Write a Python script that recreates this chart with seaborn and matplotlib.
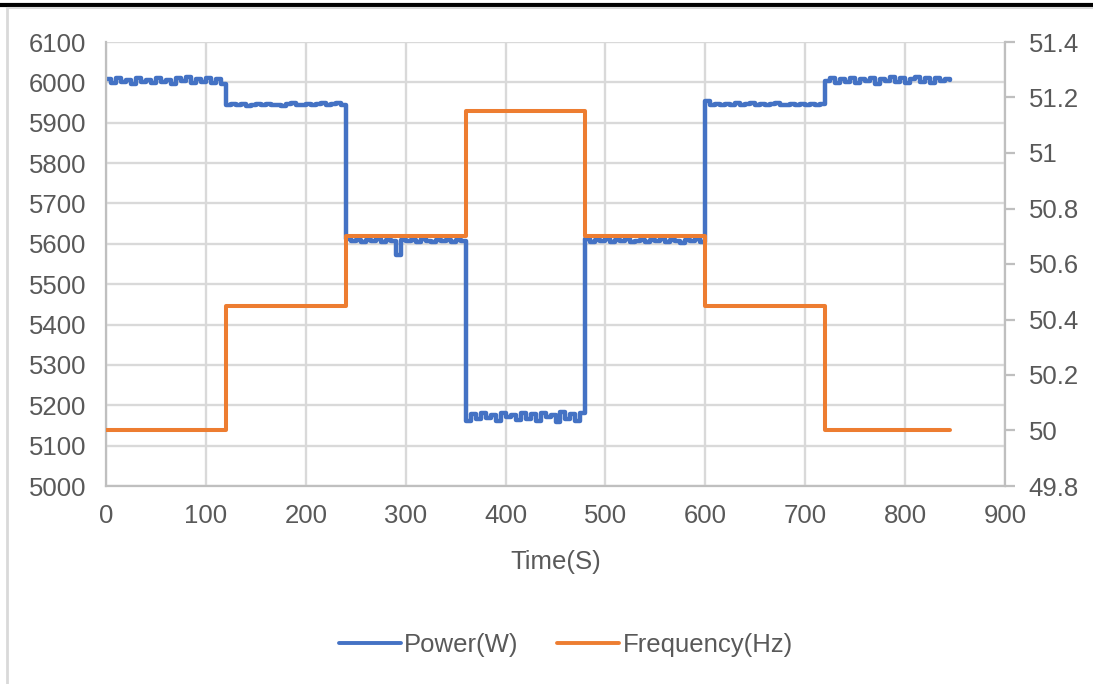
import matplotlib
matplotlib.use("Agg")
import matplotlib.pyplot as plt
from matplotlib.lines import Line2D
import seaborn as sns
import pandas as pd
import numpy as np

# ---------------- data ----------------
sample_step = 5
time_s = list(range(0, 850, sample_step))  # 0..845 s

power_seg_a = [6008, 5999, 6010, 6001, 6006, 5997, 6011, 6000, 6005, 5998, 6012, 6002,
               6007, 5996, 6010, 6003, 6013, 5999, 6008, 6001, 6011, 5998, 6009, 5996]
power_seg_b = [5943, 5946, 5944, 5947, 5942, 5945, 5946, 5943, 5947, 5944, 5945, 5942,
               5946, 5948, 5944, 5945, 5947, 5943, 5946, 5949, 5944, 5946, 5948, 5945]
power_seg_c = [5612, 5606, 5609, 5604, 5610, 5607, 5611, 5605, 5609, 5608, 5572, 5610,
               5606, 5609, 5605, 5611, 5607, 5604, 5610, 5606, 5609, 5605, 5610, 5607]
power_seg_d = [5160, 5178, 5165, 5180, 5168, 5176, 5162, 5181, 5170, 5177, 5163, 5182,
               5166, 5179, 5161, 5180, 5171, 5175, 5159, 5183, 5167, 5178, 5162, 5181]
power_seg_e = [5612, 5605, 5610, 5606, 5611, 5604, 5609, 5607, 5612, 5605, 5608, 5610,
               5604, 5609, 5606, 5611, 5605, 5610, 5607, 5603, 5609, 5606, 5611, 5605]
power_seg_f = [5955, 5944, 5947, 5943, 5946, 5945, 5948, 5944, 5946, 5950, 5945, 5947,
               5943, 5946, 5948, 5944, 5945, 5947, 5943, 5946, 5944, 5947, 5945, 5946]
power_seg_g = [6004, 6010, 5999, 6008, 6002, 6011, 5998, 6009, 6003, 6012, 5997, 6008,
               6004, 6013, 6000, 6010, 5999, 6009, 6014, 6001, 6011, 5998, 6012, 6003,
               6009, 6006]
power_w = (power_seg_a + power_seg_b + power_seg_c + power_seg_d +
           power_seg_e + power_seg_f + power_seg_g)

freq_time_s = [0, 120, 240, 360, 480, 600, 720, 845]
freq_hz = [50.0, 50.45, 50.7, 51.15, 50.7, 50.45, 50.0, 50.0]

power_ticks = [5000, 5100, 5200, 5300, 5400, 5500, 5600, 5700, 5800, 5900, 6000, 6100]
freq_ticks = [49.8, 50, 50.2, 50.4, 50.6, 50.8, 51, 51.2, 51.4]
freq_tick_labels = ["49.8", "50", "50.2", "50.4", "50.6", "50.8", "51", "51.2", "51.4"]
time_ticks = [0, 100, 200, 300, 400, 500, 600, 700, 800, 900]

df_power = pd.DataFrame({"Time": time_s, "Power": power_w})
df_freq = pd.DataFrame({"Time": freq_time_s, "Freq": freq_hz})

# ---------------- style ----------------
sns.set_theme(style="white")
plt.rcParams["font.family"] = ["Liberation Sans", "DejaVu Sans"]

BLUE = "#4472C4"
ORANGE = "#ED7D31"
TXT = "#595959"
GRID = "#d9d9d9"
SPINE = "#bfbfbf"
FS = 18.5

fig = plt.figure(figsize=(10.93, 6.84), dpi=100)
ax = fig.add_axes([106 / 1093, 1 - 486 / 684, (1005 - 106) / 1093, (486 - 42) / 684])
ax2 = ax.twinx()

sns.lineplot(data=df_power, x="Time", y="Power", ax=ax, color=BLUE, lw=3.2,
             drawstyle="steps-post", legend=False)
sns.lineplot(data=df_freq, x="Time", y="Freq", ax=ax2, color=ORANGE, lw=2.9,
             drawstyle="steps-post", legend=False)

ax.set_xlim(0, 900)
ax.set_ylim(5000, 6100)
ax2.set_ylim(49.8, 51.4)
ax.set_xticks(time_ticks)
ax.set_yticks(power_ticks)
ax2.set_yticks(freq_ticks)
ax2.set_yticklabels(freq_tick_labels)

ax.grid(True, color=GRID, lw=1.7)
ax.set_axisbelow(True)
ax2.grid(False)

for a in (ax, ax2):
    for s in a.spines.values():
        s.set_visible(False)
ax.spines["left"].set_visible(True)
ax.spines["bottom"].set_visible(True)
ax.spines["left"].set_color(SPINE)
ax.spines["bottom"].set_color(SPINE)
ax.spines["left"].set_linewidth(1.6)
ax.spines["bottom"].set_linewidth(1.6)
ax2.spines["right"].set_visible(True)
ax2.spines["right"].set_color(SPINE)
ax2.spines["right"].set_linewidth(1.6)

ax.tick_params(axis="both", length=0, labelsize=FS, labelcolor=TXT)
ax.tick_params(axis="y", pad=14)
ax.tick_params(axis="x", pad=13)
ax2.tick_params(axis="y", direction="out", length=7, width=1.6, color=SPINE,
                labelsize=FS, labelcolor=TXT, pad=10)

ax.set_xlabel("Time(S)", fontsize=FS, color=TXT, labelpad=16)
ax.set_ylabel("")
ax2.set_ylabel("")

handles = [Line2D([], [], color=BLUE, lw=2.8), Line2D([], [], color=ORANGE, lw=2.8)]
leg = fig.legend(handles, ["Power(W)", "Frequency(Hz)"], loc="center",
                 bbox_to_anchor=(566 / 1093, 1 - 645 / 684), ncol=2, frameon=False,
                 fontsize=FS, handlelength=2.4, handletextpad=0.15, columnspacing=1.5)
for t in leg.get_texts():
    t.set_color(TXT)

# outer frame
fig.add_artist(Line2D([0, 1], [1 - 4.5 / 684, 1 - 4.5 / 684], color="black", lw=3,
                      transform=fig.transFigure))
fig.add_artist(Line2D([7 / 1093, 1], [1 - 8 / 684, 1 - 8 / 684], color="#d9d9d9", lw=1.5,
                      transform=fig.transFigure))
fig.add_artist(Line2D([7 / 1093, 7 / 1093], [0, 1 - 8 / 684], color="#d9d9d9", lw=2,
                      transform=fig.transFigure))

fig.savefig("out.png", dpi=100)
